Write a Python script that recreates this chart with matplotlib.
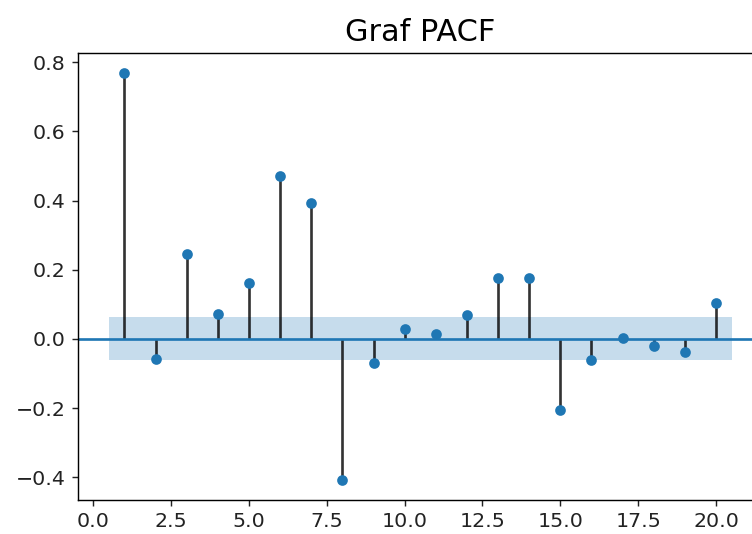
import matplotlib
matplotlib.use('Agg')
import matplotlib.pyplot as plt
import numpy as np

# partial autocorrelation values, lags 1..20
lags = np.arange(1, 21)
pacf_vals = [0.768, -0.057, 0.246, 0.073, 0.163, 0.471, 0.394, -0.407,
             -0.069, 0.028, 0.015, 0.069, 0.175, 0.175, -0.206, -0.062,
             0.004, -0.020, -0.038, 0.105]
conf = 0.062

plt.rcParams['font.family'] = 'DejaVu Sans'
plt.rcParams['xtick.labelsize'] = 11.5
plt.rcParams['ytick.labelsize'] = 11.5
plt.rcParams['xtick.color'] = '#222222'
plt.rcParams['ytick.color'] = '#222222'

fig = plt.figure(figsize=(752 / 128, 534 / 128), dpi=128)
ax = fig.add_axes([0.1033, 0.0637, 0.911, 0.837])

ax.vlines(lags, [0], pacf_vals, colors='k', linewidth=1.5, alpha=0.8)
ax.plot(lags, pacf_vals, 'o', color='C0', markersize=5)
ax.axhline(0, color='C0', linewidth=1.5)

band_x = np.concatenate([[lags[0] - 0.5], lags[1:-1], [lags[-1] + 0.5]])
ax.fill_between(band_x, -conf, conf, color='C0', alpha=0.25, linewidth=0)

ax.margins(0.05)
ax.set_xlim(-0.5, 21.5)
ax.set_title('Graf PACF', fontsize=17, pad=7)

fig.savefig('out.png', dpi=128)
